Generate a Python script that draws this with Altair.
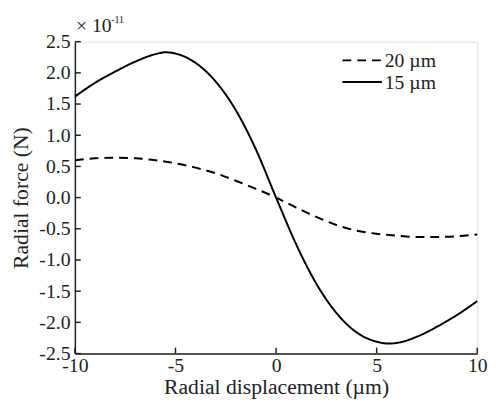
import altair as alt
import pandas as pd

# 15 µm curve (solid)
x15 = [-10, -9, -8, -7, -6, -5.5, -5, -4, -3, -2, -1, 0, 1, 2, 3, 4, 5, 5.6, 6, 7, 8, 9, 10]
y15 = [1.62, 1.84, 2.02, 2.18, 2.30, 2.33, 2.31, 2.16, 1.86, 1.40, 0.77, 0.0, -0.75, -1.38,
       -1.85, -2.16, -2.31, -2.34, -2.33, -2.23, -2.07, -1.88, -1.66]

# 20 µm curve (dashed)
x20 = [-10, -9, -8, -7, -6, -5, -4, -3, -2, -1, 0, 1, 2, 3, 4, 5, 6, 7, 8, 9, 10]
y20 = [0.60, 0.63, 0.64, 0.63, 0.60, 0.55, 0.48, 0.39, 0.27, 0.14, 0.0, -0.16, -0.31, -0.44,
       -0.53, -0.58, -0.61, -0.63, -0.63, -0.62, -0.59]

x_ticks = [-10, -5, 0, 5, 10]
y_ticks = [-2.5, -2.0, -1.5, -1.0, -0.5, 0.0, 0.5, 1.0, 1.5, 2.0, 2.5]
series = ["20 µm", "15 µm"]
dashes = [[9, 6], [1, 0]]

df = pd.concat([
    pd.DataFrame({"x": x20, "y": y20, "s": series[0]}),
    pd.DataFrame({"x": x15, "y": y15, "s": series[1]}),
])

W, H = 409, 317
FONT = "Liberation Serif"
INK = "#222"

xs = alt.Scale(domain=[-10, 10], nice=False)
ys = alt.Scale(domain=[-2.5, 2.5], nice=False)

x_axis = alt.Axis(values=x_ticks, ticks=False, grid=False, labelFontSize=20,
                  titleFontSize=22, labelPadding=2, titlePadding=2,
                  domainColor=INK, domainWidth=1.5, labelOverlap=False,
                  labelExpr="(datum.value < 0 ? '-' : '') + format(abs(datum.value), 'd')",
                  labelFont=FONT, titleFont=FONT, labelColor=INK,
                  titleColor=INK, titleFontWeight="normal", labelFlush=False)
y_axis = alt.Axis(values=y_ticks, ticks=False, grid=False,
                  labelExpr="(datum.value < 0 ? '-' : '') + format(abs(datum.value), '.1f')",
                  labelFontSize=20, titleFontSize=22, labelPadding=5,
                  titlePadding=7, domainColor=INK, domainWidth=1.5,
                  labelOverlap=False, labelFlush=False,
                  labelFont=FONT, titleFont=FONT, labelColor=INK,
                  titleColor=INK, titleFontWeight="normal")
X_TITLE = "Radial displacement (µm)"
Y_TITLE = "Radial force (N)"

lines = alt.Chart(df).mark_line(strokeWidth=2, color="black", interpolate="monotone").encode(
    x=alt.X("x:Q", scale=xs, title=X_TITLE, axis=x_axis),
    y=alt.Y("y:Q", scale=ys, title=Y_TITLE, axis=y_axis),
    strokeDash=alt.StrokeDash("s:N", scale=alt.Scale(domain=series, range=dashes), legend=None),
)

ytick_df = pd.DataFrame({"v": y_ticks})
xtick_df = pd.DataFrame({"v": x_ticks})

yt = alt.Chart(ytick_df).mark_rule(color=INK, strokeWidth=1.5).encode(
    y=alt.Y("v:Q", scale=ys, title=Y_TITLE, axis=y_axis), x=alt.value(0), x2=alt.value(6))
xt = alt.Chart(xtick_df).mark_rule(color=INK, strokeWidth=1.5).encode(
    x=alt.X("v:Q", scale=xs, title=X_TITLE, axis=x_axis), y=alt.value(H), y2=alt.value(H - 6))

# manual legend
leg = []
for i, (name, d) in enumerate(zip(series, dashes)):
    ypos = 19 + 22 * i
    leg.append(alt.Chart(pd.DataFrame({"s": [name]})).mark_rule(
        color="black", strokeWidth=2, strokeDash=d).encode(
        x=alt.value(272), x2=alt.value(312), y=alt.value(ypos)))
    leg.append(alt.Chart(pd.DataFrame({"s": [name]})).mark_text(
        font=FONT, fontSize=20, align="left", baseline="middle", color=INK).encode(
        text="s:N", x=alt.value(315), y=alt.value(ypos + 1)))

mult = alt.Chart(pd.DataFrame({"t": ["× 10"]})).mark_text(
    font=FONT, fontSize=20, align="left", baseline="alphabetic", color=INK).encode(
    text="t:N", x=alt.value(1), y=alt.value(-10))
exp = alt.Chart(pd.DataFrame({"t": ["-11"]})).mark_text(
    font=FONT, fontSize=10, align="left", baseline="alphabetic", color=INK).encode(
    text="t:N", x=alt.value(37), y=alt.value(-19))

chart = alt.layer(lines, yt, xt, *leg, mult, exp).properties(
    width=W, height=H,
    autosize=alt.AutoSizeParams(type="none"),
    padding={"left": 68, "top": 31, "right": 16, "bottom": 44},
).configure_view(stroke=None).configure(background="white")

chart.save("out.html", embed_options={"renderer": "svg", "actions": False})
